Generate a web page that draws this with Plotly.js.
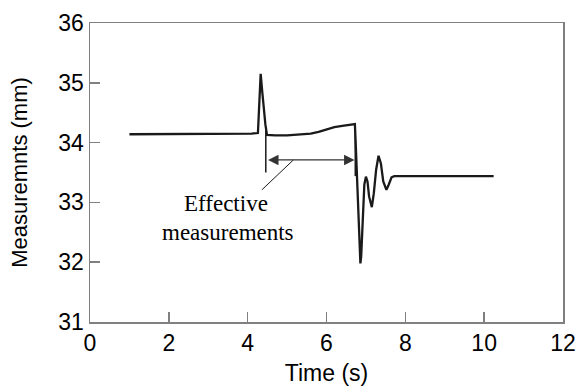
<!DOCTYPE html>
<html>
<head>
<meta charset="utf-8">
<script src="https://cdn.plot.ly/plotly-3.0.1.min.js"></script>
<style>html,body{margin:0;padding:0;background:#fff;}#chart{width:587px;height:388px;}</style>
</head>
<body>
<div id="chart"></div>
<script>
// Time (s)
const timeS = [1.0, 2.0, 3.0, 3.6, 3.9, 4.1, 4.26, 4.29, 4.33, 4.37, 4.41, 4.45, 4.49, 4.7, 5.0, 5.3, 5.6, 5.8, 6.0, 6.2, 6.4, 6.6, 6.72,
  6.74, 6.78, 6.82, 6.86, 6.88, 6.92, 6.96, 7.0, 7.04, 7.08, 7.15, 7.2, 7.26, 7.32, 7.38, 7.44, 7.52, 7.58, 7.65, 7.72, 8.5, 9.5, 10.24];
// Measurements (mm)
const measMm = [34.14, 34.14, 34.14, 34.14, 34.15, 34.15, 34.16, 34.6, 35.15, 34.85, 34.55, 34.3, 34.13, 34.12, 34.12, 34.13, 34.15, 34.18, 34.22, 34.26, 34.28, 34.30, 34.31,
  34.0, 33.2, 32.5, 31.98, 32.1, 32.8, 33.3, 33.43, 33.35, 33.1, 32.92, 33.15, 33.55, 33.78, 33.65, 33.35, 33.21, 33.3, 33.42, 33.44, 33.44, 33.44, 33.44];

const xTicks = [0, 2, 4, 6, 8, 10, 12];
const yTicks = [31, 32, 33, 34, 35, 36];

// effective measurement window
const effStart = 4.46, effEnd = 6.73, effY = 33.71;
const labelLines = ["Effective", "measurements"];

const sans = "Liberation Sans, Arial, sans-serif";
const serif = "Liberation Serif, Times New Roman, serif";

const trace = {
  x: timeS, y: measMm, type: 'scatter', mode: 'lines',
  line: {color: '#1a1a1a', width: 2.3}, hoverinfo: 'skip'
};

const layout = {
  width: 587, height: 388,
  margin: {l: 90, r: 24, t: 23, b: 66},
  paper_bgcolor: '#fff', plot_bgcolor: '#fff',
  showlegend: false,
  xaxis: {
    range: [0, 12], tickvals: xTicks, ticktext: xTicks.map(String),
    showgrid: false, zeroline: false,
    showline: true, mirror: true, linecolor: '#808080', linewidth: 1.5,
    ticks: 'inside', ticklen: 10, tickwidth: 1.5, tickcolor: '#808080',
    tickfont: {family: sans, size: 23, color: '#000'},
    title: {text: 'Time (s)', font: {family: sans, size: 23, color: '#000'}, standoff: 10}
  },
  yaxis: {
    range: [31, 36], tickvals: yTicks, ticktext: yTicks.map(String),
    showgrid: false, zeroline: false,
    showline: true, mirror: true, linecolor: '#808080', linewidth: 1.5,
    ticks: 'inside', ticklen: 10, tickwidth: 1.5, tickcolor: '#808080',
    tickfont: {family: sans, size: 23, color: '#000'},
    title: {text: 'Measuremnts (mm)', font: {family: sans, size: 22, color: '#000'}, standoff: 24}
  },
  shapes: [
    {type: 'line', xref: 'x', yref: 'y', x0: effStart, x1: effStart, y0: 33.50, y1: 34.21, line: {color: '#1a1a1a', width: 1.5}},
    {type: 'line', xref: 'x', yref: 'y', x0: effEnd, x1: effEnd, y0: 33.44, y1: 34.31, line: {color: '#1a1a1a', width: 1.5}},
    {type: 'line', xref: 'x', yref: 'y', x0: 5.16, x1: 4.36, y0: effY, y1: 33.21, line: {color: '#1a1a1a', width: 1}}
  ],
  annotations: [
    {x: effEnd - 0.02, y: effY, ax: effStart + 0.02, ay: effY, axref: 'x', ayref: 'y', xref: 'x', yref: 'y',
     text: '', showarrow: true, arrowside: 'end+start', arrowhead: 2, arrowsize: 1.6, arrowwidth: 1.3, arrowcolor: '#333'},
    {x: 3.45, y: 32.99, xref: 'x', yref: 'y', text: labelLines[0], showarrow: false,
     font: {family: serif, size: 23, color: '#000'}},
    {x: 3.50, y: 32.50, xref: 'x', yref: 'y', text: labelLines[1], showarrow: false,
     font: {family: serif, size: 23, color: '#000'}}
  ]
};

Plotly.newPlot('chart', [trace], layout, {staticPlot: true, displayModeBar: false});
</script>
</body>
</html>
